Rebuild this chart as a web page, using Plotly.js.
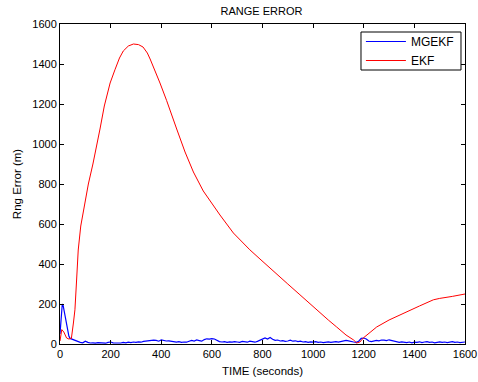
<!DOCTYPE html>
<html>
<head>
<meta charset="utf-8">
<script src="https://cdn.plot.ly/plotly-3.0.1.min.js"></script>
<style>html,body{margin:0;padding:0;background:#fff;}#chart{width:478px;height:382px;}</style>
</head>
<body>
<div id="chart"></div>
<script>
// MGEKF range error (blue)
const mgekfTime = [0,3,6,9,12,15,20,25,30,35,40,45,50,55,60,70,80,90,100,110,120,130,140,150,160,170,180,190,200,210,220,230,240,250,260,270,280,290,300,310,320,330,340,350,360,370,380,390,400,410,420,430,440,450,460,470,480,490,500,510,520,530,540,550,560,570,580,590,600,610,620,630,640,650,660,670,680,690,700,710,720,730,740,750,760,770,780,790,800,810,820,830,840,850,860,870,880,890,900,910,920,930,940,950,960,970,980,990,1000,1010,1020,1030,1040,1050,1060,1070,1080,1090,1100,1110,1120,1130,1140,1150,1160,1170,1180,1190,1200,1210,1220,1230,1240,1250,1260,1270,1280,1290,1300,1310,1320,1330,1340,1350,1360,1370,1380,1390,1400,1410,1420,1430,1440,1450,1460,1470,1480,1490,1500,1510,1520,1530,1540,1550,1560,1570,1580,1590,1600];
const mgekfErr = [50,120,190,200,195,175,150,110,65,40,28,25,22,20,18,12,8,6,14,8,5,6,4,7,5,6,4,8,10,6,5,7,5,8,6,9,7,10,8,11,9,13,15,17,16,19,18,14,20,17,15,16,13,11,9,12,8,10,9,14,18,15,20,17,14,22,26,24,27,25,18,12,10,12,8,11,9,12,10,8,13,11,9,14,11,9,13,18,22,30,25,33,24,18,20,15,17,13,15,19,14,16,12,14,10,12,8,11,9,12,8,10,7,9,11,8,10,12,9,11,15,18,16,12,10,8,14,28,30,25,15,12,14,18,16,20,19,17,21,18,12,10,8,11,9,7,10,6,9,8,11,7,10,12,8,10,6,9,11,8,10,7,9,12,8,10,7,9,10];
// EKF range error (red)
const ekfTime = [0,7,15,26,35,45,53,59,66,72,82,95,112,130,145,158,175,198,217,235,250,270,290,310,328,345,356,374,395,421,435,461,494,527,566,600,632,685,750,790,843,900,948,1000,1027,1060,1093,1130,1160,1172,1185,1198,1225,1251,1300,1370,1420,1475,1500,1550,1600];
const ekfErr = [15,72,60,30,25,28,105,171,330,470,590,690,800,900,990,1075,1190,1305,1371,1430,1465,1490,1500,1497,1485,1455,1425,1371,1305,1218,1171,1075,960,860,765,700,645,555,471,425,363,300,246,186,155,120,85,45,20,5,10,30,58,85,120,163,190,221,228,238,250];
const xTicks = [0,200,400,600,800,1000,1200,1400,1600];
const yTicks = [0,200,400,600,800,1000,1200,1400,1600];

const fam = 'Liberation Sans, Arial, sans-serif';
const font = {family: fam, size: 11, color: '#000'};
const titleFont = {family: fam, size: 11.5, color: '#000'};
const traces = [
  {x: mgekfTime, y: mgekfErr, type: 'scatter', mode: 'lines', name: 'MGEKF', line: {color: '#0000ff', width: 1.2}},
  {x: ekfTime, y: ekfErr, type: 'scatter', mode: 'lines', name: 'EKF', line: {color: '#ff0000', width: 1}}
];
const axisCommon = {
  showgrid: false, zeroline: false, showline: true, linecolor: '#000', linewidth: 1,
  mirror: 'ticks', ticks: 'inside', ticklen: 4, tickcolor: '#000', tickwidth: 1,
  tickfont: font, automargin: false, fixedrange: true
};
const layout = {
  width: 478, height: 382,
  margin: {l: 60, r: 13, t: 24, b: 38},
  paper_bgcolor: '#fff', plot_bgcolor: '#fff',
  font: font,
  title: {text: 'RANGE ERROR', font: font, x: 0.547, xanchor: 'center', y: 0.972, yanchor: 'middle'},
  xaxis: Object.assign({}, axisCommon, {range: [0, 1600], tickvals: xTicks, ticktext: xTicks.map(String),
    title: {text: 'TIME (seconds)', font: titleFont, standoff: 7}}),
  yaxis: Object.assign({}, axisCommon, {range: [0, 1600], tickvals: yTicks, ticktext: yTicks.map(String),
    title: {text: 'Rng Error (m)', font: titleFont, standoff: 8}}),
  shapes: [{type: 'rect', xref: 'paper', yref: 'paper', x0: 0.7432, x1: 0.9901, y0: 0.85625, y1: 0.975,
    line: {color: '#000', width: 1}, fillcolor: 'rgba(0,0,0,0)', layer: 'below'}],
  showlegend: true,
  legend: {x: 0.743, xanchor: 'left', y: 0.9906, yanchor: 'top', bgcolor: 'rgba(0,0,0,0)', borderwidth: 0,
    itemwidth: 40, font: {family: fam, size: 12, color: '#000'}}
};
Plotly.newPlot('chart', traces, layout, {displayModeBar: false, staticPlot: true});
</script>
</body>
</html>
